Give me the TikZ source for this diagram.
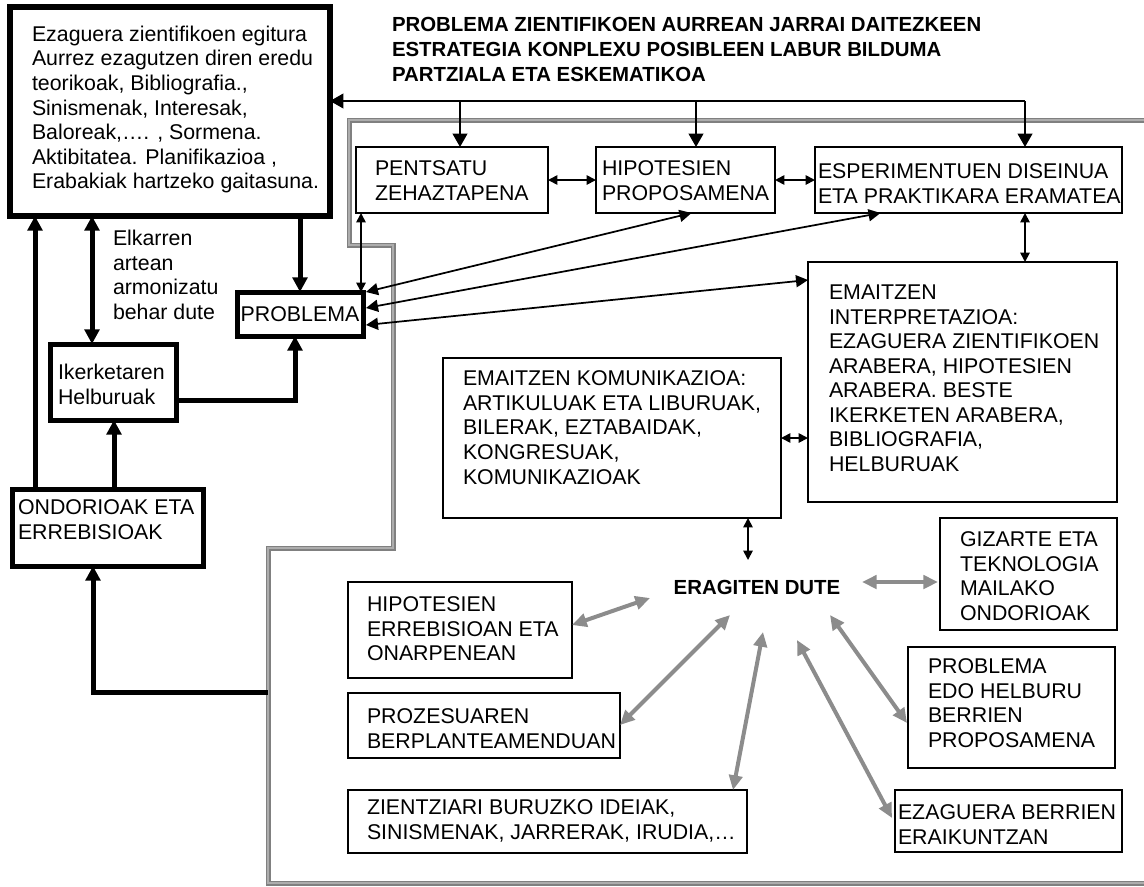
\documentclass[tikz,border=0pt]{standalone}
\usepackage{fontspec}
\setmainfont{Liberation Sans}
\usetikzlibrary{arrows.meta,calc}

\tikzset{
  every node/.style={inner sep=0pt, outer sep=0pt},
  box/.style={draw, line width=1.4pt, anchor=north west},
  hbox/.style={draw, line width=4pt, anchor=north west},
  txt/.style={anchor=north west, align=left, font=\fontsize{16}{18.4}\selectfont},
  ttl/.style={anchor=north west, align=left, font=\bfseries\fontsize{15.3}{18.75}\selectfont},
  ln/.style={line width=1.3pt},
  sdar/.style={ln, {Triangle[length=7pt,width=7pt]}-{Triangle[length=7pt,width=7pt]}},
  bar/.style={ln, -{Triangle[length=10pt,width=11pt]}},
  fdar/.style={ln, {Triangle[length=9pt,width=9pt]}-{Triangle[length=9pt,width=9pt]}},
  tk/.style={line width=3.75pt},
  tkar/.style={tk, -{Triangle[length=11pt,width=11pt]}},
  tkdar/.style={tk, {Triangle[length=11pt,width=11pt]}-{Triangle[length=11pt,width=11pt]}},
  gout/.style={line width=3.75pt, draw=black!50},
  gin/.style={line width=2pt, draw=black!32},
  gar/.style={line width=3pt, draw=black!45, {Triangle[length=11pt,width=10pt]}-{Triangle[length=11pt,width=10pt]}}
}

\begin{document}
\begin{tikzpicture}[x=0.75pt,y=-0.75pt]
\useasboundingbox (0,0) rectangle (1144,886);

% hatched boundary of the experimental cycle
\draw[gout] (1144,120) -- (349,120) -- (349,245) -- (393,245) -- (393,548)
  -- (268,548) -- (268,883) -- (1144,883);
\draw[gin] (1144,120) -- (349,120) -- (349,245) -- (393,245) -- (393,548)
  -- (268,548) -- (268,883) -- (1144,883);

% boxes
\node[hbox, minimum width=240pt, minimum height=156.75pt] (b1) at (10,7) {};
\node[box, minimum width=144pt, minimum height=49.5pt] (pent) at (356,147) {};
\node[box, minimum width=134.25pt, minimum height=49.5pt] (hipo) at (596,147) {};
\node[box, minimum width=230.25pt, minimum height=49.5pt] (espe) at (815,147) {};
\node[hbox, line width=3.75pt, minimum width=94.5pt, minimum height=33pt, font=\fontsize{16}{18.4}\selectfont] (prob) at (237,292) {PROBLEMA};
\node[hbox, line width=3.75pt, minimum width=94.5pt, minimum height=57pt] (iker) at (50,344) {};
\node[hbox, line width=3.75pt, minimum width=143.25pt, minimum height=57.75pt] (ondo) at (12,489) {};
\node[box, minimum width=231.75pt, minimum height=180pt] (inter) at (808,262) {};
\node[box, minimum width=253.5pt, minimum height=120pt] (komu) at (443,358) {};
\node[box, minimum width=132.75pt, minimum height=84pt] (giz) at (940,518) {};
\node[box, minimum width=155.25pt, minimum height=90.75pt] (pedo) at (908,647) {};
\node[box, minimum width=170.25pt, minimum height=46.5pt] (ezb) at (895,790) {};
\node[box, minimum width=168pt, minimum height=72pt] (hrev) at (348,582) {};
\node[box, minimum width=204pt, minimum height=48.75pt] (proz) at (348,693) {};
\node[box, minimum width=299.25pt, minimum height=47.25pt] (zien) at (348,790) {};

% texts
\node[ttl] (title) at (392,17) {PROBLEMA ZIENTIFIKOEN AURREAN JARRAI DAITEZKEEN\\ESTRATEGIA KONPLEXU POSIBLEEN LABUR BILDUMA\\PARTZIALA ETA ESKEMATIKOA};
\node[txt] (b1T) at (32,26) {Ezaguera zientifikoen egitura\\Aurrez ezagutzen diren eredu\\teorikoak, Bibliografia.,\\Sinismenak, Interesak,\\Baloreak,…. , Sormena.\\Aktibitatea. Planifikazioa ,\\Erabakiak hartzeko gaitasuna.};
\node[txt] (pentT) at (375,161) {PENTSATU\\ZEHAZTAPENA};
\node[txt] (hipoT) at (602,161) {HIPOTESIEN\\PROPOSAMENA};
\node[txt] (espeT) at (818,164) {ESPERIMENTUEN DISEINUA\\ETA PRAKTIKARA ERAMATEA};
\node[txt] (ikerT) at (58,364) {Ikerketaren\\Helburuak};
\node[txt] (elkT) at (113,230) {Elkarren\\artean\\armonizatu\\behar dute};
\node[txt] (ondoT) at (18,500) {ONDORIOAK ETA\\ERREBISIOAK};
\node[txt] (interT) at (829,285) {EMAITZEN\\INTERPRETAZIOA:\\EZAGUERA ZIENTIFIKOEN\\ARABERA, HIPOTESIEN\\ARABERA. BESTE\\IKERKETEN ARABERA,\\BIBLIOGRAFIA,\\HELBURUAK};
\node[txt] (komuT) at (463,371) {EMAITZEN KOMUNIKAZIOA:\\ARTIKULUAK ETA LIBURUAK,\\BILERAK, EZTABAIDAK,\\KONGRESUAK,\\KOMUNIKAZIOAK};
\node[txt] (gizT) at (960,532) {GIZARTE ETA\\TEKNOLOGIA\\MAILAKO\\ONDORIOAK};
\node[txt] (pedoT) at (928,659) {PROBLEMA\\EDO HELBURU\\BERRIEN\\PROPOSAMENA};
\node[txt] (ezbT) at (898,805) {EZAGUERA BERRIEN\\ERAIKUNTZAN};
\node[txt] (hrevT) at (367,597) {HIPOTESIEN\\ERREBISIOAN ETA\\ONARPENEAN};
\node[txt] (prozT) at (367,709) {PROZESUAREN\\BERPLANTEAMENDUAN};
\node[txt] (zienT) at (367,800) {ZIENTZIARI BURUZKO IDEIAK,\\SINISMENAK, JARRERAK, IRUDIA,…};
\node[font=\bfseries\fontsize{15.3}{18.75}\selectfont] (erag) at (757,587) {ERAGITEN DUTE};

% column and row helpers
\coordinate (tr) at (1025,101);
\coordinate (c1) at (460,101);
\coordinate (c2) at (696,101);
\coordinate (cp) at (361,0);
\coordinate (lx) at (35,0);
\coordinate (ix) at (92,0);
\coordinate (mx) at (114,0);
\coordinate (kx) at (748,560);
\coordinate (gj) at (268,692);

% top distribution line
\draw[bar] (tr) -- (b1.east |- tr);
\draw[bar] (c1) -- (pent.north -| c1);
\draw[bar] (c2) -- (hipo.north -| c2);
\draw[bar] (tr) -- (espe.north -| tr);

% links among the experimental steps
\draw[sdar] (pent.east) -- (hipo.west);
\draw[sdar] (hipo.east) -- (espe.west);
\draw[sdar] (espe.south -| tr) -- (inter.north -| tr);
\draw[sdar] (pent.south -| cp) -- (prob.north -| cp);
\draw[sdar] (komu.east) -- (inter.west |- komu.east);
\draw[sdar] (komu.south -| kx) -- (kx);

% feedback towards the problem
\draw[fdar] ($(prob.east)+(3,-22)$) -- ($(hipo.south)+(6,0)$);
\draw[fdar] ($(prob.east)+(3,-6)$) -- ($(espe.south)+(-88,0)$);
\draw[fdar] ($(prob.east)+(3,11)$) -- ($(inter.west)+(0,-102)$);

% thick links on the left
\draw[tkar] (prob.north |- b1.south) -- (prob.north);
\draw[tkar] ($(iker.east)+(0,18)$) -| ($(prob.south)+(-5,0)$);
\draw[tkdar] (b1.south -| ix) -- (iker.north -| ix);
\draw[tkar] (ondo.north -| lx) -- (b1.south -| lx);
\draw[tkar] (ondo.north -| mx) -- (iker.south -| mx);
\draw[tkar] (gj) -| ($(ondo.south)+(-14.5,0)$);

% influences
\draw[gar] ($(erag.center)+(105,-5)$) -- ($(giz.west)+(-2,8)$);
\draw[gar] ($(erag.center)+(-107,11)$) -- ($(hrev.east)+(0,-5)$);
\draw[gar] ($(erag.center)+(-27,28)$) -- ($(proz.east)+(0,-0.5)$);
\draw[gar] ($(erag.center)+(6,45)$) -- ($(zien.north)+(185.5,0)$);
\draw[gar] ($(erag.center)+(40,53)$) -- ($(ezb.west)+(-3,-3)$);
\draw[gar] ($(erag.center)+(73,28)$) -- ($(pedo.west)+(-1,15.5)$);
\end{tikzpicture}
\end{document}
